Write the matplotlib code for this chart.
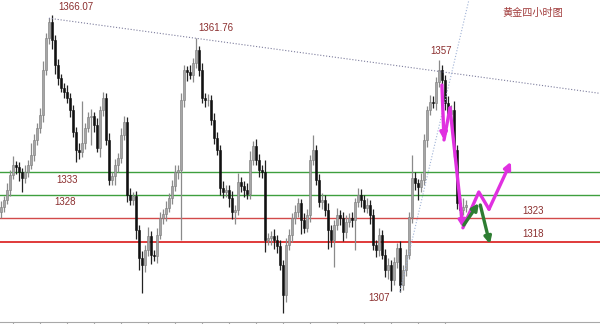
import numpy as np
import matplotlib
matplotlib.use('Agg')
import matplotlib.pyplot as plt

# Gold 4h candles, closes (one candle every ~3 px)
closes = [
    1325.5, 1327.0, 1329.1, 1332.4, 1334.5, 1334.0, 1333.0, 1331.7, 1333.0, 1334.5, 1336.7, 1339.9,
    1342.5, 1345.3, 1354.9, 1361.8, 1365.3, 1361.4, 1356.0, 1353.2, 1351.1, 1350.2, 1348.9, 1346.3,
    1341.6, 1337.7, 1337.3, 1339.2, 1342.5, 1344.8, 1345.0, 1343.1, 1338.2, 1346.3, 1348.9, 1339.9,
    1331.3, 1332.1, 1334.5, 1336.0, 1341.0, 1343.8, 1328.1, 1327.0, 1327.8, 1320.5, 1314.5, 1313.0,
    1316.2, 1319.2, 1315.2, 1314.9, 1319.5, 1323.1, 1324.0, 1325.3, 1327.4, 1330.0, 1333.0, 1333.4,
    1348.5, 1354.9, 1354.5, 1353.9, 1356.4, 1359.2, 1354.9, 1348.9, 1348.5, 1348.5, 1344.2, 1340.3,
    1337.7, 1329.6, 1328.7, 1329.1, 1327.4, 1324.4, 1324.8, 1330.8, 1330.0, 1329.1, 1328.3, 1335.6,
    1338.6, 1335.6, 1333.4, 1333.0, 1318.4, 1318.8, 1319.2, 1318.4, 1317.1, 1313.0, 1306.5, 1317.3,
    1319.5, 1323.1, 1324.4, 1326.3, 1322.7, 1321.0, 1323.8, 1335.6, 1337.7, 1331.3, 1326.5, 1327.0,
    1324.8, 1320.5, 1318.4, 1321.6, 1323.8, 1323.1, 1320.1, 1322.2, 1323.1, 1322.7, 1326.5, 1328.1,
    1327.0, 1325.3, 1326.0, 1323.8, 1317.3, 1316.2, 1319.5, 1315.2, 1311.9, 1313.0, 1309.8, 1313.6,
    1316.7, 1308.7, 1311.9, 1315.2, 1323.3, 1331.7, 1330.6, 1329.8, 1331.3, 1339.9, 1346.3, 1348.1,
    1347.8, 1352.4, 1354.9, 1352.8, 1347.8, 1345.5, 1346.3, 1337.7, 1326.3, 1324.8, 1325.5, 1325.9,
]
first_open = 1324.5

# wick lengths above / below the body
wick_up = [
    1.2, 0.8, 1.5, 1.0, 2.0, 0.8, 1.2, 0.9, 1.6, 1.0, 2.5, 1.2,
    1.0, 1.5, 2.0, 1.2, 0.77, 1.5, 1.0, 1.2, 0.8, 1.0, 1.5, 1.0,
    1.2, 1.0, 1.5, 9.0, 1.0, 1.2, 1.5, 1.0, 1.5, 1.0, 1.2, 1.0,
    1.5, 1.0, 1.2, 1.0, 1.5, 1.2, 1.0, 1.5, 1.0, 1.2, 1.0, 1.5,
    1.0, 2.0, 1.2, 1.0, 1.5, 1.2, 1.0, 1.5, 1.0, 1.2, 1.5, 1.0,
    1.5, 1.2, 1.0, 1.5, 1.2, 2.56, 1.0, 1.5, 1.0, 1.2, 1.0, 1.5,
    1.2, 1.0, 1.5, 1.0, 1.2, 1.5, 1.0, 2.0, 1.2, 1.0, 1.5, 2.0,
    1.0, 1.5, 1.2, 1.0, 2.5, 1.0, 1.2, 1.5, 1.0, 1.2, 1.0, 1.5,
    1.2, 1.0, 1.5, 1.2, 1.0, 1.5, 1.2, 1.0, 3.3, 1.0, 1.2, 1.5,
    1.0, 1.5, 1.2, 1.0, 1.5, 1.0, 1.2, 1.5, 1.0, 1.2, 1.0, 1.5,
    1.2, 1.0, 1.5, 1.0, 1.2, 1.0, 1.5, 1.0, 1.2, 1.5, 1.0, 1.2,
    1.0, 1.5, 1.0, 1.2, 1.0, 5.0, 1.2, 1.0, 1.5, 1.2, 1.0, 1.5,
    1.2, 1.0, 2.1, 1.2, 1.0, 1.5, 1.2, 2.0, 1.0, 1.5, 2.0, 1.0,
]
wick_dn = [
    1.5, 1.0, 0.8, 1.2, 1.0, 1.5, 2.0, 3.0, 1.0, 1.0, 0.8, 1.3,
    1.0, 1.2, 1.5, 1.0, 1.2, 2.0, 2.0, 1.5, 1.0, 1.2, 1.0, 1.5,
    1.0, 2.5, 1.5, 1.0, 1.2, 1.0, 6.0, 1.5, 1.0, 2.0, 1.2, 1.0,
    1.0, 1.2, 2.0, 1.5, 1.0, 1.2, 1.5, 1.0, 1.2, 2.0, 2.5, 6.0,
    1.5, 1.2, 2.0, 1.0, 1.5, 1.0, 1.2, 1.5, 1.0, 1.2, 1.0, 1.5,
    15.0, 1.5, 2.0, 1.0, 1.5, 1.0, 1.2, 1.0, 1.5, 1.2, 1.0, 1.2,
    1.0, 1.5, 1.2, 1.0, 2.0, 1.5, 2.5, 1.0, 1.2, 1.5, 1.0, 1.2,
    1.2, 1.0, 1.5, 1.2, 2.5, 1.0, 1.5, 2.0, 1.5, 1.0, 3.8, 1.5,
    1.0, 1.5, 1.2, 1.0, 3.0, 1.2, 1.0, 1.5, 1.0, 1.2, 1.0, 1.5,
    1.2, 4.0, 1.5, 5.8, 1.0, 1.5, 2.0, 1.2, 1.0, 1.5, 6.5, 1.0,
    1.5, 1.0, 1.2, 2.0, 1.0, 1.5, 1.2, 1.0, 1.5, 2.0, 2.5, 1.0,
    1.2, 1.5, 1.0, 1.2, 1.0, 1.2, 1.5, 2.8, 1.0, 1.2, 1.5, 1.0,
    1.0, 1.5, 1.2, 1.0, 1.5, 1.2, 1.0, 1.5, 1.2, 2.0, 1.0, 1.2,
]

# support / resistance levels
green_levels = [1333, 1328]
red_levels = [1323, 1318]

# price labels: (text, bar index, price)
peak_labels = [('1366.07', 25.0, 1368.5), ('1361.76', 71.7, 1363.9),
               ('1357', 146.7, 1359.0), ('1307', 126.2, 1306.0)]
level_labels = [('1333', 22.0, 1331.2), ('1328', 21.5, 1326.6),
                ('1323', 177.3, 1324.7), ('1318', 177.3, 1319.7)]

# resistance line through the two highs, rising support from the 1307 low
res_pts = [(16, 1366.07), (65, 1361.76)]
sup_pts = [(133, 1307.2), (156, 1370.0)]

# projected moves drawn on the chart
magenta_a = [(147.0, 1351.7), (147.7, 1339.9)]
magenta_b = [(147.7, 1339.9), (149.7, 1346.8), (154.0, 1321.0)]
magenta_c = [(154.0, 1321.0), (159.3, 1328.7), (162.7, 1325.0), (170.0, 1335.2)]
green_a = [(154.3, 1321.6), (159.3, 1326.3)]
green_b = [(159.8, 1325.9), (163.0, 1317.5)]

closes = np.array(closes)
opens = np.concatenate([[first_open], closes[:-1]])
highs = np.maximum(opens, closes) + np.array(wick_up)
lows = np.minimum(opens, closes) - np.array(wick_dn)
idx = np.arange(len(closes))
up = closes >= opens

fig = plt.figure(figsize=(6, 3.24), dpi=100)
ax = fig.add_axes([0, 2 / 324, 1, 322 / 324])
ax.set_xlim(-0.3, 199.7)
ax.set_ylim(1300.74, 1369.99)

for lv in green_levels:
    ax.axhline(lv, color='#3f9f3f', lw=1.0, zorder=1)
ax.axhline(red_levels[0], color='#d24a4a', lw=1.0, zorder=1)
ax.axhline(red_levels[1], color='#e03a3a', lw=1.4, zorder=1)

# candles
ax.vlines(idx[up], lows[up], highs[up], color='#8a8a8a', lw=0.9, zorder=2)
ax.vlines(idx[~up], lows[~up], highs[~up], color='#222222', lw=0.9, zorder=2)
ax.bar(idx[up], (closes - opens)[up], bottom=opens[up], width=0.7,
       color='#a6a6a6', edgecolor='#7a7a7a', lw=0.4, zorder=3)
ax.bar(idx[~up], (opens - closes)[~up], bottom=closes[~up], width=0.7,
       color='#111111', edgecolor='#111111', lw=0.4, zorder=3)

# trend lines
(x0, y0), (x1, y1) = res_pts
slope = (y1 - y0) / (x1 - x0)
ax.plot([x0, 200], [y0, y0 + slope * (200 - x0)], ls=':', color='#7c7c9c', lw=0.8, zorder=4)
ax.plot([p[0] for p in sup_pts], [p[1] for p in sup_pts], ls=':', color='#9fb2d6', lw=0.8, zorder=4)

def arrow_path(pts, color):
    xs = [p[0] for p in pts]
    ys = [p[1] for p in pts]
    ax.plot(xs[:-1], ys[:-1], color=color, lw=2.4, zorder=6, solid_capstyle='round')
    ax.annotate('', xy=pts[-1], xytext=pts[-2],
                arrowprops=dict(arrowstyle='-|>', color=color, lw=2.4,
                                mutation_scale=10, shrinkA=0, shrinkB=0), zorder=6)

arrow_path(magenta_a, '#e030e0')
arrow_path(magenta_b, '#e030e0')
arrow_path(magenta_c, '#e030e0')
arrow_path(green_a, '#2e7d32')
arrow_path(green_b, '#2e7d32')

for txt, x, y in peak_labels + level_labels:
    ax.text(x, y, txt, ha='center', va='center', fontsize=7,
            family='Liberation Sans', color='#8b2e2e', zorder=7)

ax.text(0.888, 1 - 12.5 / 322, '黄金四小时图', transform=ax.transAxes, ha='center', va='center',
        fontsize=7.3, family=['Noto Sans CJK SC', 'DejaVu Sans'], color='#a03a3a')

for s in ['top', 'left', 'right']:
    ax.spines[s].set_visible(False)
ax.spines['bottom'].set_color('#a8a8a8')
ax.set_yticks([])
ax.set_xticks(np.arange(4, 157, 9))
ax.tick_params(axis='x', direction='out', length=2, color='#a8a8a8', labelbottom=False)

fig.savefig('out.png', dpi=100)
